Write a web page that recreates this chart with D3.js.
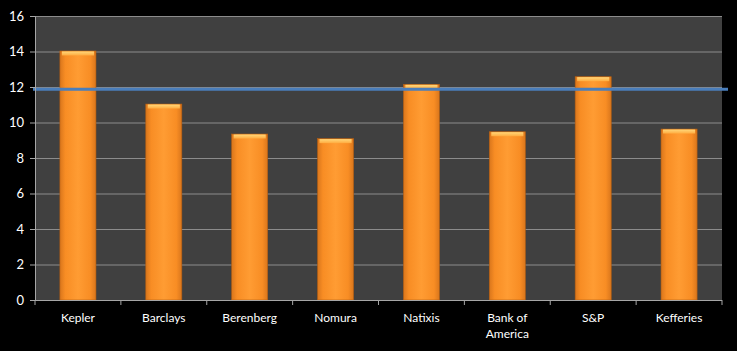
<!DOCTYPE html>
<html>
<head>
<meta charset="utf-8">
<script src="https://cdn.jsdelivr.net/npm/d3@7"></script>
<style>
	body { margin: 0; background: #000; }
	text { font-family: Lato, "Open Sans", sans-serif; fill: #fff; }
</style>
</head>
<body>
<div id="root"></div>
<script>
const categories	= ['Kepler', 'Barclays', 'Berenberg', 'Nomura', 'Natixis', 'Bank of America', 'S&P', 'Kefferies'];
const values		= [14.03, 11.04, 9.35, 9.09, 12.15, 9.48, 12.58, 9.63];
const target		= 11.88;
const y_ticks		= [0, 2, 4, 6, 8, 10, 12, 14, 16];

const width		= 737;
const height	= 351;
const margin	= { top: 16, right: 15, bottom: 51, left: 35 };

const svg = d3.select('#root').append('svg')
	.attr('width', width)
	.attr('height', height)
	.style('display', 'block');

svg.append('rect').attr('width', width).attr('height', height).attr('fill', '#000');

const x = d3.scaleBand()
	.domain(categories)
	.range([margin.left, width - margin.right])
	.paddingInner(0.58)
	.paddingOuter(0.29);

const y = d3.scaleLinear()
	.domain([0, 16])
	.range([height - margin.bottom, margin.top]);

// plot area
svg.append('rect')
	.attr('x', margin.left)
	.attr('y', margin.top)
	.attr('width', width - margin.left - margin.right)
	.attr('height', height - margin.top - margin.bottom)
	.attr('fill', '#404040');

// gridlines
svg.append('g').selectAll('line')
	.data(y_ticks.filter(d => d > 0)).enter().append('line')
	.attr('x1', margin.left)
	.attr('x2', width - margin.right)
	.attr('y1', d => y(d) + 0.5)
	.attr('y2', d => y(d) + 0.5)
	.attr('stroke', '#8c8c8c')
	.attr('stroke-width', 1);

const defs = svg.append('defs');
const grad = defs.append('linearGradient').attr('id', 'barGrad').attr('x1', 0).attr('x2', 1).attr('y1', 0).attr('y2', 0);
grad.append('stop').attr('offset', '0%').attr('stop-color', '#d9761c');
grad.append('stop').attr('offset', '15%').attr('stop-color', '#f88d24');
grad.append('stop').attr('offset', '50%').attr('stop-color', '#ff9c33');
grad.append('stop').attr('offset', '85%').attr('stop-color', '#f88d24');
grad.append('stop').attr('offset', '100%').attr('stop-color', '#d9761c');

const topGrad = defs.append('linearGradient').attr('id', 'topGrad').attr('x1', 0).attr('x2', 0).attr('y1', 0).attr('y2', 1);
topGrad.append('stop').attr('offset', '0%').attr('stop-color', '#ffd77a');
topGrad.append('stop').attr('offset', '100%').attr('stop-color', '#ffac40');

// bars
const bars = svg.append('g').selectAll('g')
	.data(categories.map((c, i) => ({ name: c, value: values[i] }))).enter().append('g');

bars.append('rect')
	.attr('x', d => x(d.name))
	.attr('y', d => y(d.value))
	.attr('width', x.bandwidth())
	.attr('height', d => y(0) - y(d.value))
	.attr('fill', 'url(#barGrad)')
	.attr('stroke', '#b35e12')
	.attr('stroke-width', 0.6);

bars.append('rect')
	.attr('x', d => x(d.name) + 2)
	.attr('y', d => y(d.value) + 0.5)
	.attr('width', x.bandwidth() - 4)
	.attr('height', 4)
	.attr('fill', 'url(#topGrad)');

// target line
svg.append('line')
	.attr('x1', margin.left - 2)
	.attr('x2', width - margin.right + 6)
	.attr('y1', y(target))
	.attr('y2', y(target))
	.attr('stroke', '#4a7ebb')
	.attr('stroke-width', 3);

// y axis
const yAxis = svg.append('g')
	.attr('transform', 'translate(' + margin.left + ',0)')
	.call(d3.axisLeft(y).tickValues(y_ticks).tickSize(5).tickPadding(6));
yAxis.select('.domain').attr('stroke', '#a6a6a6');
yAxis.selectAll('.tick line').attr('stroke', '#a6a6a6');
yAxis.selectAll('text').style('font-size', '13px').attr('fill', '#fff');

// x axis
const xAxis = svg.append('g').attr('transform', 'translate(0,' + (height - margin.bottom) + ')');
xAxis.append('line')
	.attr('x1', margin.left)
	.attr('x2', width - margin.right)
	.attr('y1', 0.5).attr('y2', 0.5)
	.attr('stroke', '#a6a6a6');

const step = x.step();
xAxis.selectAll('.xtick')
	.data(d3.range(categories.length + 1)).enter().append('line')
	.attr('x1', i => margin.left + i * (width - margin.left - margin.right) / categories.length)
	.attr('x2', i => margin.left + i * (width - margin.left - margin.right) / categories.length)
	.attr('y1', 0).attr('y2', 5)
	.attr('stroke', '#a6a6a6');

const labels = xAxis.selectAll('.xlabel')
	.data(categories).enter().append('text')
	.attr('text-anchor', 'middle')
	.attr('x', d => x(d) + x.bandwidth() / 2)
	.attr('y', 22)
	.style('font-size', '12px');

labels.each(function(d) {
	const t = d3.select(this);
	const lines = d === 'Bank of America' ? ['Bank of', 'America'] : [d];
	lines.forEach((l, i) => {
		t.append('tspan')
			.attr('x', x(d) + x.bandwidth() / 2)
			.attr('dy', i === 0 ? 0 : 16)
			.text(l);
	});
});
</script>
</body>
</html>
